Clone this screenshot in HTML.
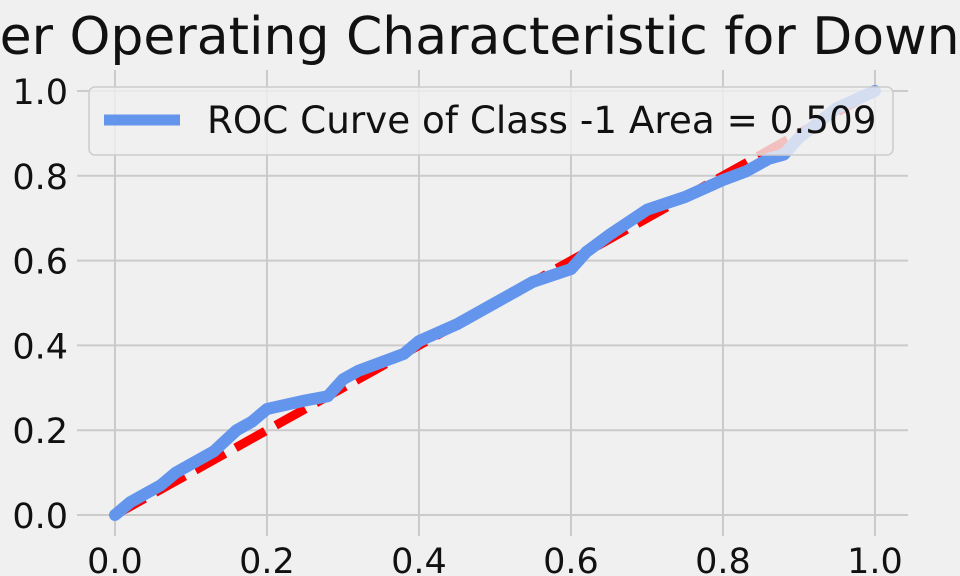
<!DOCTYPE html>
<html><head><meta charset="utf-8">
<style>
html,body{margin:0;padding:0;background:#f0f0f0;}
svg{display:block;font-family:"DejaVu Sans","Liberation Sans",sans-serif;}
</style></head>
<body>
<svg id="chart" width="960" height="576" viewBox="0 0 960 576">
<rect x="0" y="0" width="960" height="576" fill="#f0f0f0"/>
<g id="grid"></g>
<g id="series"></g>
<g id="ticks"></g>
<text x="-172" y="54" font-size="52" fill="#111">Receiver Operating Characteristic for Downtrend</text>
<g>
<rect x="89" y="87" width="804" height="68" rx="6" fill="#f0f0f0" fill-opacity="0.8" stroke="#cccccc" stroke-width="1.5"/>
<line x1="104" y1="120" x2="180" y2="120" stroke="#6495ed" stroke-width="11"/>
<text x="207" y="133" font-size="37.3" fill="#111">ROC Curve of Class -1 Area = 0.509</text>
</g>
</svg>
<script>
const fpr=[0,0.02,0.04,0.06,0.08,0.1,0.13,0.16,0.18,0.2,0.25,0.28,0.3,0.32,0.35,0.38,0.4,0.45,0.5,0.55,0.6,0.62,0.65,0.7,0.75,0.8,0.83,0.86,0.88,0.9,0.95,1];
const tpr=[0,0.03,0.05,0.07,0.1,0.12,0.15,0.2,0.22,0.25,0.27,0.28,0.32,0.34,0.36,0.38,0.41,0.45,0.5,0.55,0.58,0.62,0.66,0.72,0.75,0.79,0.81,0.84,0.85,0.89,0.96,1];
const xTicks=[0,0.2,0.4,0.6,0.8,1.0];
const yTicks=[0,0.2,0.4,0.6,0.8,1.0];
const NS='http://www.w3.org/2000/svg';
const X=v=>115+v*760, Y=v=>515-v*424;
const L=77,R=908,T=70,B=536;
function mk(t,a,p){const e=document.createElementNS(NS,t);for(const k in a)e.setAttribute(k,a[k]);p.appendChild(e);return e;}
const grid=document.getElementById('grid'),ticks=document.getElementById('ticks'),series=document.getElementById('series');
xTicks.forEach(v=>{
 const g=mk('line',{x1:X(v),x2:X(v),y1:T,y2:B,stroke:'#cbcbcb','stroke-width':2},grid);
 
 
 const t=mk('text',{x:X(v),y:573,'font-size':35,'text-anchor':'middle',fill:'#111'},ticks);
 t.textContent=v.toFixed(1);
 
 
});
yTicks.forEach(v=>{
 const g=mk('line',{x1:L,x2:R,y1:Y(v),y2:Y(v),stroke:'#cbcbcb','stroke-width':2},grid);
 
 
 const t=mk('text',{x:68,y:Y(v)+13,'font-size':35,'text-anchor':'end',fill:'#111'},ticks);
 t.textContent=v.toFixed(1);
 
 
});
const diag=mk('line',{x1:X(0),y1:Y(0),x2:X(1),y2:Y(1),stroke:'#ff0000','stroke-width':9,'stroke-dasharray':'34 12'},series);


const pts=fpr.map((f,i)=>X(f)+','+Y(tpr[i])).join(' ');
const roc=mk('polyline',{points:pts,fill:'none',stroke:'#6495ed','stroke-width':12,'stroke-linejoin':'round','stroke-linecap':'round'},series);


</script>
</body></html>
